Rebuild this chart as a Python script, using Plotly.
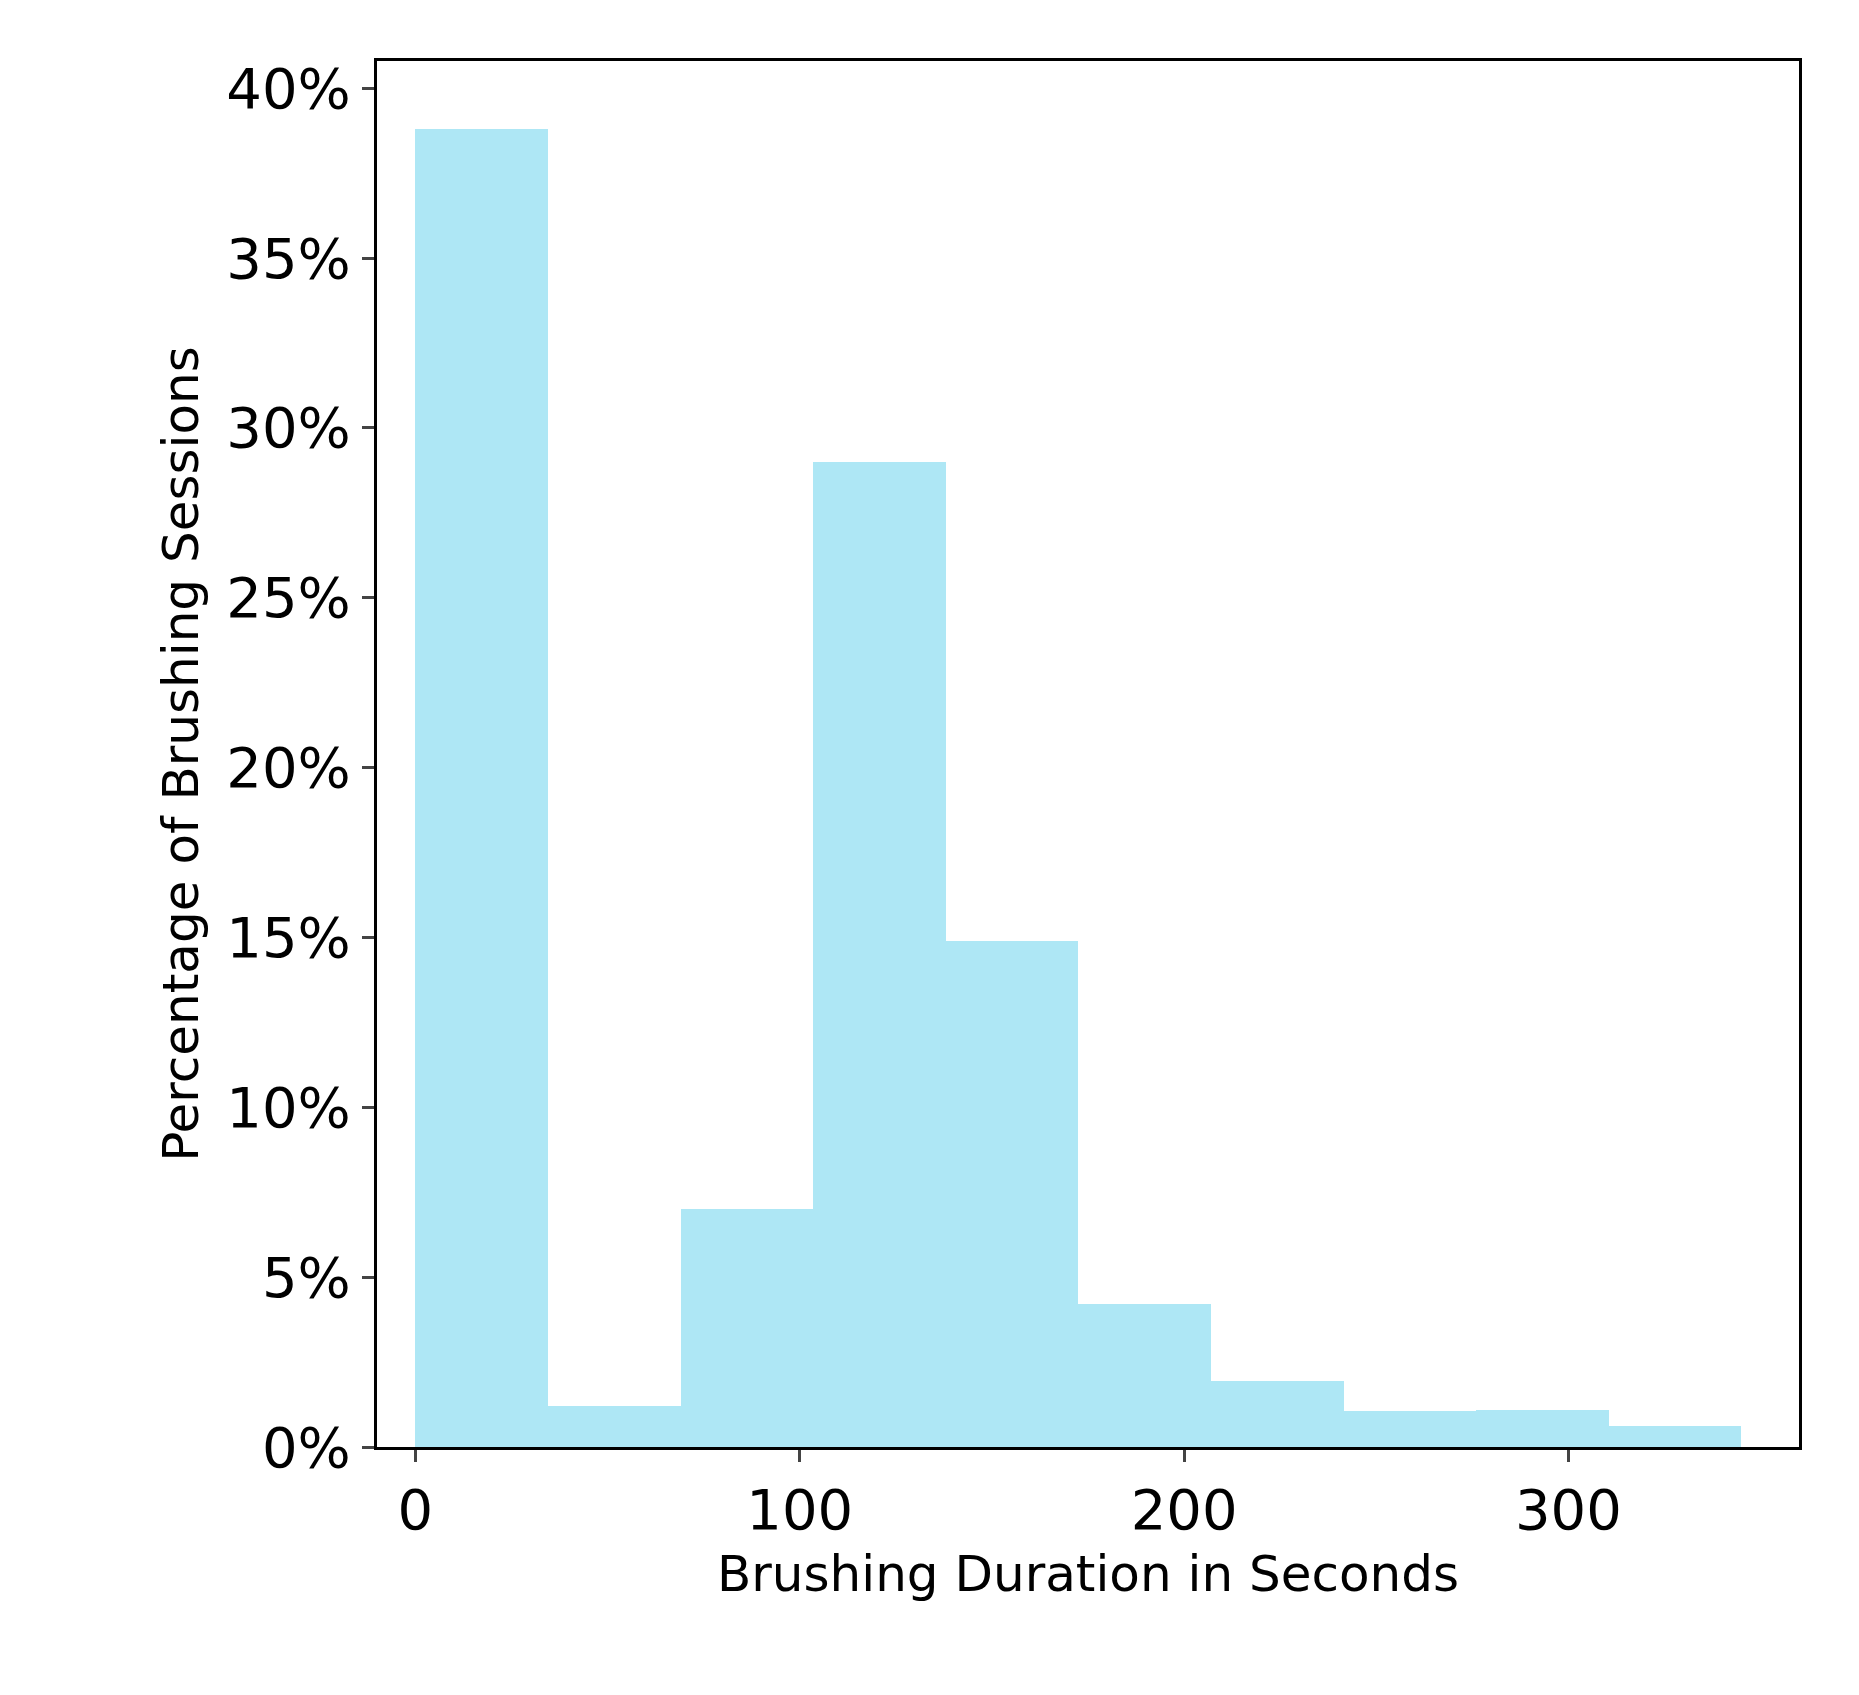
import plotly.graph_objects as go

bin_edges_start = [0, 34.5, 69, 103.5, 138, 172.5, 207, 241.5, 276, 310.5]
bin_width = 34.5
percentages = [38.8, 1.2, 7.0, 29.0, 14.9, 4.2, 1.95, 1.05, 1.1, 0.62]

fig = go.Figure(go.Bar(
    x=bin_edges_start, y=percentages, width=[bin_width]*len(percentages), offset=0,
    marker=dict(color="#AEE7F5", line=dict(width=0)),
))
fig.update_layout(
    width=1859, height=1695, plot_bgcolor="white", paper_bgcolor="white",
    margin=dict(l=369, r=68, t=53, b=256), font=dict(family="DejaVu Sans", size=50, color="black"),
    bargap=0, showlegend=False,
)
fig.update_xaxes(range=[-10, 360], tickvals=[0, 100, 200, 300], ticks="outside", ticklen=12, tickwidth=3,
                 tickfont=dict(size=56), showline=True, linewidth=3, linecolor="black", mirror=True,
                 showgrid=False, zeroline=False,
                 title=dict(text="Brushing Duration in Seconds", standoff=15, font=dict(size=50)))
fig.update_yaxes(range=[0, 40.8], tickvals=list(range(0, 41, 5)), ticktext=[f"{v}%" for v in range(0, 41, 5)],
                 ticks="outside", ticklen=12, tickwidth=3, tickfont=dict(size=56),
                 showline=True, linewidth=3, linecolor="black", mirror=True, showgrid=False, zeroline=False,
                 title=dict(text="Percentage of Brushing Sessions", standoff=12, font=dict(size=50)))
fig.write_html("out.html")
